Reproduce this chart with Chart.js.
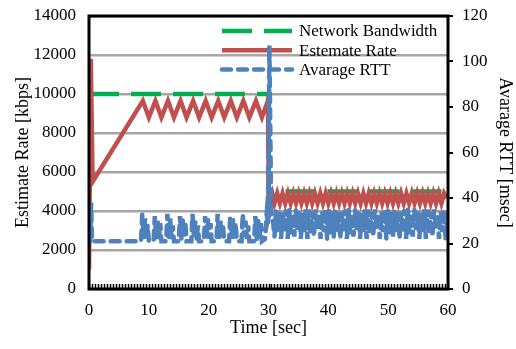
<!DOCTYPE html>
<html>
<head>
<meta charset="utf-8">
<script src="https://cdn.jsdelivr.net/npm/chart.js@4/dist/chart.umd.min.js"></script>
<style>
html,body{margin:0;padding:0;background:#fff;}
#c{display:block;}
</style>
</head>
<body>
<canvas id="c" width="516" height="349"></canvas>
<script>
// ---- data ----
const seriesNames = ['Network Bandwidth', 'Estemate Rate', 'Avarage RTT'];

const bandwidthTime = [0, 30, 30, 60];
const bandwidthKbps = [10000, 10000, 5000, 5000];

const rateTime = [0, 0.3, 0.6, 9.0, 10.0, 11.1, 12.1, 13.2, 14.2, 15.3, 16.3, 17.4, 18.4, 19.5, 20.5,
  21.6, 22.6, 23.7, 24.7, 25.8, 26.8, 27.9, 28.9, 29.9, 30.1, 30.7,
  31.0, 31.45, 31.9, 32.35, 32.8, 33.25, 33.7, 34.15, 34.6, 35.05, 35.5, 35.95, 36.4, 36.85,
  37.3, 37.75, 38.2, 38.65, 39.1, 39.55, 40.0, 40.45, 40.9, 41.35, 41.8, 42.25, 42.7, 43.15,
  43.6, 44.05, 44.5, 44.95, 45.4, 45.85, 46.3, 46.75, 47.2, 47.65, 48.1, 48.55, 49.0, 49.45,
  49.9, 50.35, 50.8, 51.25, 51.7, 52.15, 52.6, 53.05, 53.5, 53.95, 54.4, 54.85, 55.3, 55.75,
  56.2, 56.65, 57.1, 57.55, 58.0, 58.45, 58.9, 59.35, 59.8];
const rateKbps = [1000, 11800, 5500, 9650, 8800, 9650, 8800, 9650, 8800, 9650, 8800, 9650, 8800, 9650, 8800,
  9650, 8800, 9650, 8800, 9650, 8800, 9650, 8800, 9650, 3900, 4800,
  4400, 4900, 4400, 4900, 4400, 4900, 4400, 4900, 4400, 4900, 4400, 4900, 4400, 4900,
  4400, 4900, 4400, 4900, 4400, 4900, 4400, 4900, 4400, 4900, 4400, 4900, 4400, 4900,
  4400, 4900, 4400, 4900, 4400, 4900, 4400, 4900, 4400, 4900, 4400, 4900, 4400, 4900,
  4400, 4900, 4400, 4900, 4400, 4900, 4400, 4900, 4400, 4900, 4400, 4900, 4400, 4900,
  4400, 4900, 4400, 4900, 4400, 4900, 4400, 4900, 4650];

const rttTime = [0.2, 0.35, 0.5, 8.5,
  8.7, 8.9, 9.15, 9.35, 9.6, 9.8, 10.0,
  10.8, 11.0, 11.25, 11.45, 11.7, 11.9, 12.1,
  12.9, 13.1, 13.35, 13.55, 13.8, 14.0, 14.2,
  15.0, 15.2, 15.45, 15.65, 15.9, 16.1, 16.3,
  17.1, 17.3, 17.55, 17.75, 18.0, 18.2, 18.4,
  19.2, 19.4, 19.65, 19.85, 20.1, 20.3, 20.5,
  21.3, 21.5, 21.75, 21.95, 22.2, 22.4, 22.6,
  23.4, 23.6, 23.85, 24.05, 24.3, 24.5, 24.7,
  25.5, 25.7, 25.95, 26.15, 26.4, 26.6, 26.8,
  27.6, 27.8, 28.05, 28.25, 28.5, 28.7, 28.9,
  29.4, 29.7, 29.95, 30.15, 30.45, 30.75,
  31.0, 31.28, 31.55, 31.82, 32.1, 32.38, 32.65, 32.92, 33.2, 33.48, 33.75, 34.02,
  34.3, 34.58, 34.85, 35.12, 35.4, 35.68, 35.95, 36.22, 36.5, 36.78, 37.05, 37.32,
  37.6, 37.88, 38.15, 38.42, 38.7, 38.98, 39.25, 39.52, 39.8, 40.08, 40.35, 40.62,
  40.9, 41.18, 41.45, 41.72, 42.0, 42.28, 42.55, 42.82, 43.1, 43.38, 43.65, 43.92,
  44.2, 44.48, 44.75, 45.02, 45.3, 45.58, 45.85, 46.12, 46.4, 46.68, 46.95, 47.22,
  47.5, 47.78, 48.05, 48.32, 48.6, 48.88, 49.15, 49.42, 49.7, 49.98, 50.25, 50.52,
  50.8, 51.08, 51.35, 51.62, 51.9, 52.18, 52.45, 52.72, 53.0, 53.28, 53.55, 53.82,
  54.1, 54.38, 54.65, 54.92, 55.2, 55.48, 55.75, 56.02, 56.3, 56.58, 56.85, 57.12,
  57.4, 57.68, 57.95, 58.22, 58.5, 58.78, 59.05, 59.32, 59.6, 59.9];
const rttMs = [21, 38, 21, 21,
  21, 33, 22, 31, 22, 28, 21,
  21, 32, 22, 30, 22, 29, 21,
  21, 33, 22, 31, 22, 28, 21,
  21, 32, 22, 31, 23, 29, 21,
  21, 33, 23, 30, 22, 28, 21,
  21, 32, 22, 31, 22, 29, 21,
  21, 33, 22, 30, 23, 28, 21,
  21, 32, 22, 31, 22, 29, 21,
  21, 33, 23, 30, 22, 28, 21,
  21, 32, 22, 31, 22, 29, 21,
  22, 33, 28, 107, 33, 30,
  23, 35, 25, 34, 22, 34, 26, 35, 22, 35, 24, 33,
  23, 35, 26, 34, 22, 34, 25, 35, 22, 35, 24, 34,
  23, 35, 26, 33, 22, 34, 25, 35, 22, 35, 24, 34,
  23, 35, 26, 34, 22, 34, 25, 35, 22, 35, 24, 33,
  23, 35, 26, 34, 22, 34, 25, 35, 22, 35, 24, 34,
  23, 35, 26, 33, 22, 34, 25, 35, 22, 35, 24, 34,
  23, 35, 26, 34, 22, 34, 25, 35, 22, 35, 24, 33,
  23, 35, 26, 34, 22, 34, 25, 35, 22, 35, 24, 34,
  23, 35, 26, 33, 22, 34, 25, 35, 22, 33];

const xTickLabels = ['0', '10', '20', '30', '40', '50', '60'];
const leftTickLabels = ['0', '2000', '4000', '6000', '8000', '10000', '12000', '14000'];
const rightTickLabels = ['0', '20', '40', '60', '80', '100', '120'];

// ---- helpers ----
const pts = (xs, ys) => xs.map((x, i) => ({x: x, y: ys[i]}));
const SERIF = '"Liberation Serif", "Times New Roman", serif';

const insideLegend = {
  id: 'insideLegend',
  beforeDatasetsDraw(chart) {
    const ctx = chart.ctx, a = chart.chartArea;
    const x0 = a.right - 226, y0 = a.top + 15, rowH = 19.3;
    chart.data.datasets.forEach((ds, i) => {
      const y = y0 + i * rowH;
      ctx.save();
      ctx.strokeStyle = ds.borderColor;
      ctx.lineWidth = ds.borderWidth;
      ctx.setLineDash(ds.borderDash || []);
      ctx.lineCap = ds.borderCapStyle || 'butt';
      ctx.beginPath();
      ctx.moveTo(x0, y);
      ctx.lineTo(x0 + 70, y);
      ctx.stroke();
      ctx.setLineDash([]);
      ctx.fillStyle = '#000';
      ctx.font = '17px ' + SERIF;
      ctx.textBaseline = 'middle';
      ctx.textAlign = 'left';
      ctx.fillText(ds.label, x0 + 77, y + 1);
      ctx.restore();
    });
  }
};

const frame = {
  id: 'frame',
  afterDraw(chart) {
    const ctx = chart.ctx, a = chart.chartArea, xs = chart.scales.x;
    ctx.save();
    ctx.strokeStyle = '#000';
    ctx.lineWidth = 1.5;
    ctx.beginPath();
    for (let v = xs.min; v <= xs.max + 1e-9; v += 0.5) {
      const px = Math.round(xs.getPixelForValue(v)) + 0.5;
      ctx.moveTo(px, a.bottom);
      ctx.lineTo(px, a.bottom - 5);
    }
    ctx.stroke();
    ctx.lineWidth = 3;
    ctx.strokeRect(a.left, a.top, a.right - a.left, a.bottom - a.top);
    ctx.restore();
  }
};

const fixV = w => s => { s.width = w; s.paddingTop = 0; s.paddingBottom = 0; };

new Chart(document.getElementById('c'), {
  type: 'line',
  data: {
    datasets: [
      {
        label: seriesNames[0],
        data: pts(bandwidthTime, bandwidthKbps),
        borderColor: '#00b050',
        borderWidth: 4.5,
        borderDash: [30, 12],
        yAxisID: 'y',
        order: 3
      },
      {
        label: seriesNames[1],
        data: pts(rateTime, rateKbps),
        borderColor: '#c0504d',
        borderWidth: 4.5,
        yAxisID: 'y',
        order: 2
      },
      {
        label: seriesNames[2],
        data: pts(rttTime, rttMs),
        borderColor: '#4f81bd',
        borderWidth: 4.5,
        borderDash: [9, 7],
        borderCapStyle: 'round',
        yAxisID: 'y1',
        order: 1
      }
    ]
  },
  options: {
    responsive: false,
    animation: false,
    devicePixelRatio: 1,
    layout: {padding: {top: 16, left: 0, right: 0, bottom: 0}},
    elements: {point: {radius: 0, hoverRadius: 0}, line: {tension: 0, fill: false}},
    plugins: {legend: {display: false}, tooltip: {enabled: false}},
    scales: {
      x: {
        type: 'linear',
        min: 0, max: 60,
        afterFit: s => { s.height = 60; s.paddingLeft = 0; s.paddingRight = 0; },
        grid: {display: false, drawTicks: false},
        border: {display: false},
        ticks: {
          stepSize: 10,
          padding: 11,
          color: '#000',
          maxRotation: 0,
          font: {family: SERIF, size: 17},
          callback: (v, i) => xTickLabels[i]
        },
        title: {display: true, text: 'Time [sec]', color: '#000', font: {family: SERIF, size: 18}, padding: {top: 0, bottom: 10}}
      },
      y: {
        position: 'left',
        min: 0, max: 14000,
        afterFit: fixV(89),
        grid: {color: '#a6a6a6', lineWidth: 2.5, drawTicks: false},
        border: {display: false},
        ticks: {
          stepSize: 2000,
          padding: 13,
          color: '#000',
          font: {family: SERIF, size: 17},
          callback: (v, i) => leftTickLabels[i]
        },
        title: {display: true, text: 'Estimate Rate [kbps]', color: '#000', font: {family: SERIF, size: 18}, padding: {top: 12, bottom: 0}}
      },
      y1: {
        position: 'right',
        min: 0, max: 120,
        afterFit: fixV(68),
        grid: {drawOnChartArea: false, color: '#000', lineWidth: 2, drawTicks: true, tickLength: 5},
        border: {display: false},
        ticks: {
          stepSize: 20,
          padding: 9,
          color: '#000',
          font: {family: SERIF, size: 17},
          callback: (v, i) => rightTickLabels[i]
        },
        title: {display: true, text: 'Avarage RTT [msec]', color: '#000', font: {family: SERIF, size: 18}, padding: {top: 0, bottom: 0}}
      }
    }
  },
  plugins: [insideLegend, frame]
});
</script>
</body>
</html>
